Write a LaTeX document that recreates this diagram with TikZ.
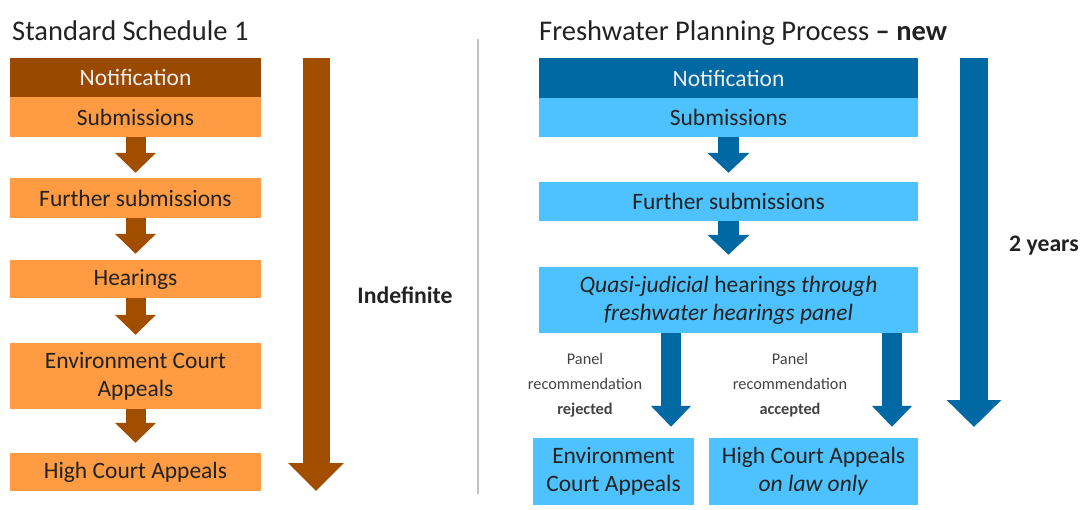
\documentclass[tikz,border=0pt]{standalone}
\usepackage{fontspec}
\setmainfont{Carlito}
\usetikzlibrary{arrows.meta}
\definecolor{brownDark}{HTML}{9A4A00}
\definecolor{brownArrow}{HTML}{A24E00}
\definecolor{orangeLight}{HTML}{FF9B42}
\definecolor{blueDark}{HTML}{0068A2}
\definecolor{blueLight}{HTML}{4EC2FF}
\definecolor{textDark}{HTML}{222222}
\definecolor{sepGray}{HTML}{C4C4C4}
\tikzset{
  box/.style={inner sep=0pt, align=center, text=textDark,
    font=\fontsize{23.5}{28}\selectfont},
  obox/.style={box, fill=orangeLight, minimum width=251pt},
  bbox/.style={box, fill=blueLight},
  title/.style={anchor=base west, inner sep=0pt, text=textDark,
    font=\fontsize{28.5}{32}\selectfont},
  note/.style={align=center, inner sep=0pt, text=textDark!85,
    font=\fontsize{16.3}{25}\selectfont},
  span/.style={inner sep=0pt, text=textDark,
    font=\fontsize{23.7}{28}\selectfont\bfseries},
  oarrow/.style={draw=brownArrow, line width=20pt,
    -{Triangle[width=40pt,length=20pt]}, shorten >=6pt},
  barrow/.style={draw=blueDark, line width=21pt,
    -{Triangle[width=41pt,length=20pt]}, shorten >=7pt},
  branch/.style={draw=blueDark, line width=20pt,
    -{Triangle[width=39pt,length=21pt]}, shorten >=11pt},
}
\begin{document}
\begin{tikzpicture}[x=1pt,y=-1pt]
\useasboundingbox (0,0) rectangle (1084,510);

% ---- Standard Schedule 1 ----
\node[title] (ltitle) at (12,41) {Standard Schedule 1};
\node[obox, fill=brownDark, minimum height=39pt, text=white!93!black] (lnot) at (135.5,77.5) {Notification};
\node[obox, minimum height=40pt] (lsub) at (135.5,117) {Submissions};
\node[obox, minimum height=40pt] (lfs) at (135.5,198) {Further submissions};
\node[obox, minimum height=38pt] (lhear) at (135.5,279) {Hearings};
\node[obox, minimum height=66pt] (leca) at (135.5,376) {Environment Court\\Appeals};
\node[obox, minimum height=38pt] (lhca) at (135.5,472) {High Court Appeals};

\draw[oarrow, shorten >=5pt] (lsub.south) -- (lfs.north);
\draw[oarrow] (lfs.south) -- (lhear.north);
\draw[oarrow, shorten >=8pt] (lhear.south) -- (leca.north);
\draw[oarrow, shorten >=10pt] (leca.south) -- (lhca.north);

% overall duration
\coordinate (ltop) at (316,58);
\coordinate (lend) at (316,491);
\draw[draw=brownArrow, line width=27pt, -{Triangle[width=54pt,length=28pt]}] (ltop) -- (lend);
\node[span] (lspan) at (405,295) {Indefinite};

% separator
\coordinate (septop) at (478,39);
\coordinate (sepbot) at (478,494);
\draw[sepGray, line width=1.6pt] (septop) -- (sepbot);

% ---- Freshwater Planning Process ----
\node[title] (rtitle) at (539,41) {Freshwater Planning Process \textbf{– new}};
\node[bbox, fill=blueDark, text=white!93!black, minimum width=379pt, minimum height=40pt] (rnot) at (728.5,78) {Notification};
\node[bbox, minimum width=379pt, minimum height=39pt] (rsub) at (728.5,117.5) {Submissions};
\node[bbox, minimum width=379pt, minimum height=39pt] (rfs) at (728.5,201.5) {Further submissions};
\node[bbox, minimum width=379pt, minimum height=66pt] (rquasi) at (728.5,300)
  {\textit{Quasi-judicial} hearings \textit{through}\\\textit{freshwater hearings panel}};
\node[bbox, minimum width=161pt, minimum height=67pt] (renv) at (613.5,471.5) {Environment\\Court Appeals};
\node[bbox, minimum width=209pt, minimum height=67pt] (rhca) at (813.5,471.5) {High Court Appeals\\\textit{on law only}};

\draw[barrow, shorten >=9pt] (rsub.south) -- (rfs.north);
\draw[barrow, shorten >=12pt] (rfs.south) -- (rquasi.north);

\coordinate (brl) at (671,0);
\coordinate (brr) at (892,0);
\draw[branch] (rquasi.south -| brl) -- (renv.north -| brl);
\draw[branch] (rquasi.south -| brr) -- (rhca.north -| brr);

\node[note] (nrej) at (585,385) {Panel\\recommendation\\\textbf{rejected}};
\node[note] (nacc) at (790,385) {Panel\\recommendation\\\textbf{accepted}};

% overall duration
\coordinate (rtop) at (974,58);
\coordinate (rend) at (974,427);
\draw[draw=blueDark, line width=28pt, -{Triangle[width=53pt,length=27pt]}] (rtop) -- (rend);
\node[span] (rspan) at (1044,246) {2 years};
\end{tikzpicture}
\end{document}
